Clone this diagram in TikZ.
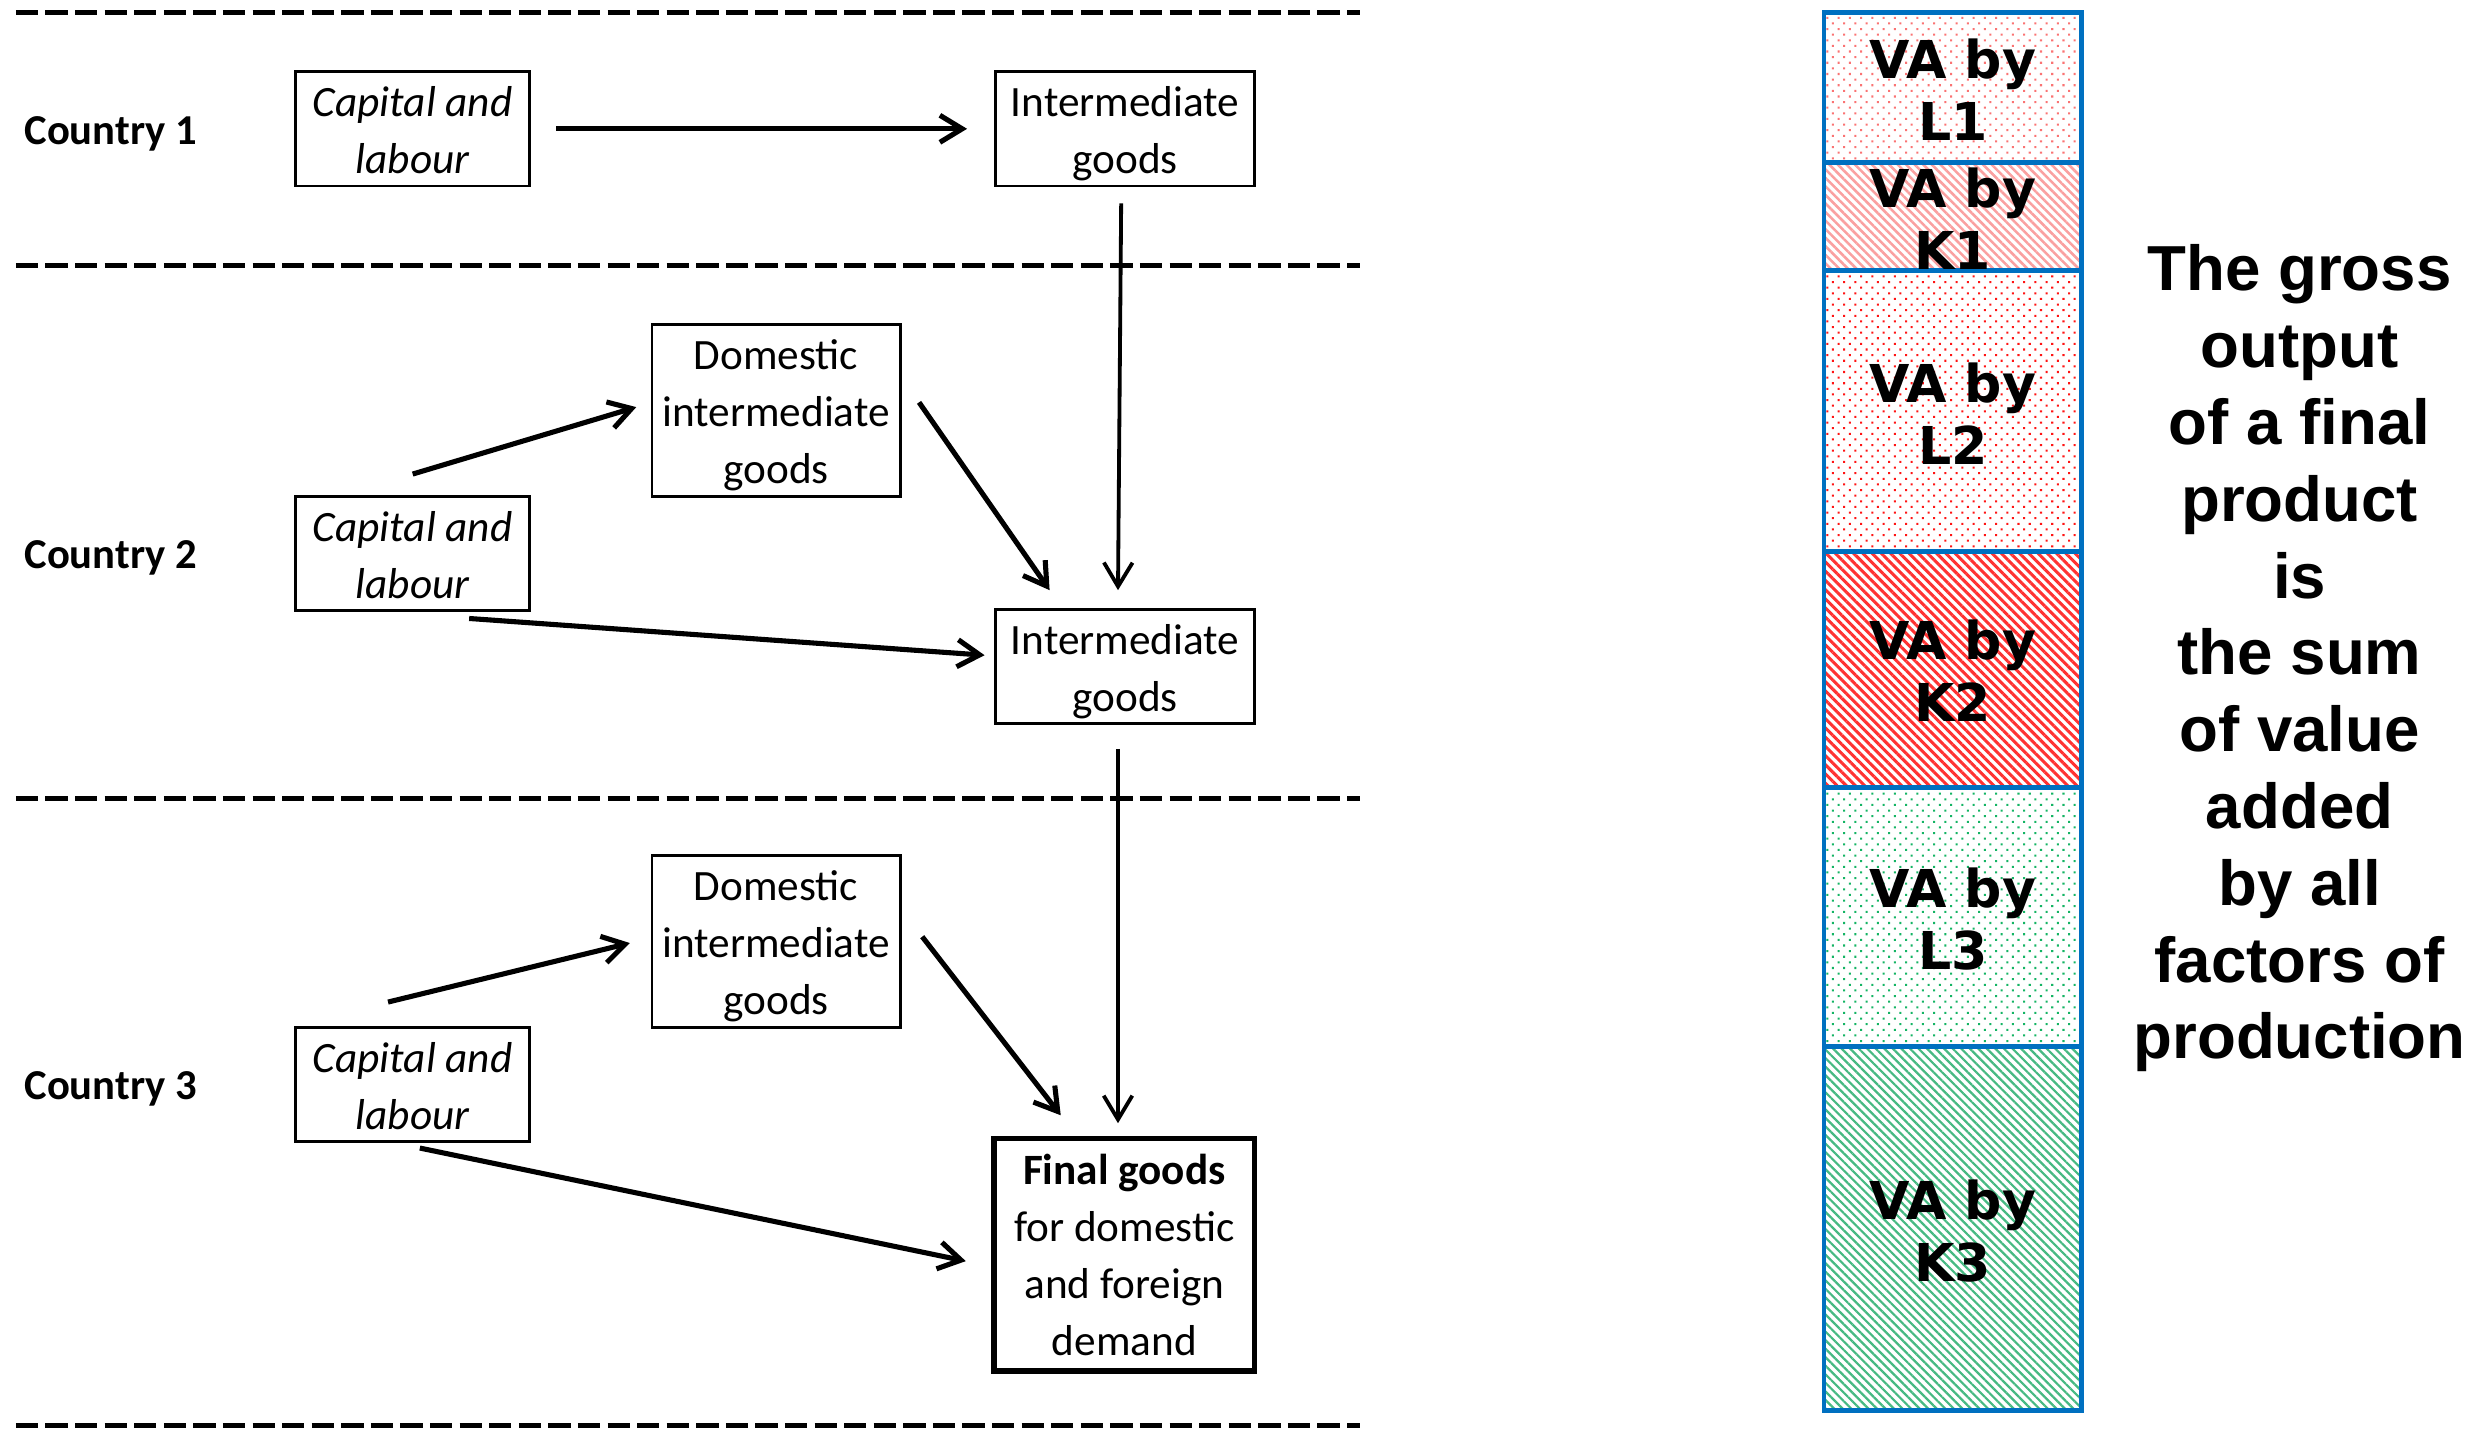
\documentclass[tikz,border=0pt]{standalone}
\usepackage{fontspec}
\setmainfont{Carlito}
\newfontfamily\libsans{Liberation Sans}
\newfontfamily\dejasans{DejaVu Sans}
\usetikzlibrary{arrows.meta,patterns.meta}
\definecolor{vablue}{RGB}{0,112,192}
\definecolor{pinkdot}{RGB}{250,115,115}
\definecolor{pinkline}{RGB}{250,160,160}
\definecolor{reddot}{RGB}{255,20,20}
\definecolor{redline}{RGB}{255,50,50}
\definecolor{greendot}{RGB}{20,180,100}
\definecolor{greenline}{RGB}{70,185,130}
\newcommand\lowtext[2]{\raisebox{-#1}[\height][\depth]{\begin{tabular}{@{}c@{}}#2\end{tabular}}}
\tikzset{
  flowbox/.style={draw, line width=0.9pt, inner sep=0pt,
    font=\fontsize{13.6}{18}\selectfont},
  clbox/.style={flowbox, minimum width=73.5pt, minimum height=36pt,
    font=\fontsize{13.6}{18}\selectfont\itshape},
  igbox/.style={flowbox, minimum width=81.5pt, minimum height=36pt},
  dombox/.style={flowbox, minimum width=78pt, minimum height=53.5pt},
  finalbox/.style={flowbox, line width=1.7pt, minimum width=82pt, minimum height=73pt},
  country/.style={anchor=west, inner sep=0pt, font=\fontsize{13.4}{16}\selectfont\bfseries},
  thickarrow/.style={line width=1.6pt, -{Straight Barb[length=7pt,width=8.5pt]}},
  thinarrow/.style={line width=1.2pt, -{Straight Barb[length=7.5pt,width=9pt]}},
  divider/.style={line width=1.5pt, dash pattern=on 7pt off 2.3pt},
  stackbox/.style={draw=vablue, line width=1.5pt},
  valabel/.style={align=center, inner sep=0pt, font=\dejasans\bfseries\fontsize{16.4}{19.5}\selectfont}
}
\begin{document}
\begin{tikzpicture}[x=0.5pt, y=-0.5pt]
\useasboundingbox (0,0) rectangle (1567,898.6);
% dashed dividers
\coordinate (d1a) at (10,8);     \coordinate (d1b) at (855,8);
\coordinate (d2a) at (10,167);   \coordinate (d2b) at (855,167);
\coordinate (d3a) at (10,502);   \coordinate (d3b) at (855,502);
\coordinate (d4a) at (10,896.5); \coordinate (d4b) at (855,896.5);
\draw[divider] (d1a) -- (d1b);
\draw[divider] (d2a) -- (d2b);
\draw[divider] (d3a) -- (d3b);
\draw[divider] (d4a) -- (d4b);
% country labels
\node[country] (c1) at (15,84) {Country 1};
\node[country] (c2) at (15,351) {Country 2};
\node[country] (c3) at (15,685) {Country 3};
% boxes
\node[clbox] (cl1) at (259.5,81) {\lowtext{1.6pt}{Capital and\\labour}};
\node[igbox] (ig1) at (707.5,81) {\lowtext{1.6pt}{Intermediate\\goods}};
\node[dombox] (dig2) at (488,258) {\lowtext{1.5pt}{Domestic\\intermediate\\goods}};
\node[clbox] (cl2) at (259.5,348) {\lowtext{1.6pt}{Capital and\\labour}};
\node[igbox] (ig2) at (707.5,419) {\lowtext{1.6pt}{Intermediate\\goods}};
\node[dombox] (dig3) at (488,592) {\lowtext{1.5pt}{Domestic\\intermediate\\goods}};
\node[clbox] (cl3) at (259.5,682) {\lowtext{1.6pt}{Capital and\\labour}};
\node[finalbox] (fg) at (707,789) {\lowtext{1.2pt}{\textbf{Final goods}\\for domestic\\and foreign\\demand}};
% arrows
\draw[thickarrow] ([xshift=8pt]cl1.east) -- ([xshift=-8.5pt]ig1.west);
\draw[thinarrow] ([xshift=-1.25pt,yshift=-5pt]ig1.south) -- ([xshift=-2.25pt,yshift=5.5pt]ig2.north);
\draw[thickarrow] ([yshift=6.5pt]cl2.north) -- ([xshift=-4.5pt,yshift=1pt]dig2.west);
\draw[thickarrow] ([xshift=5.5pt,yshift=2.5pt]dig2.east) -- ([xshift=-23.75pt,yshift=5.5pt]ig2.north);
\draw[thickarrow] ([xshift=17.75pt,yshift=-2pt]cl2.south) -- ([xshift=-3pt,yshift=3.5pt]ig2.west);
\draw[thinarrow] ([xshift=-2.25pt,yshift=-7.5pt]ig2.south) -- ([xshift=-2pt,yshift=4pt]fg.north);
\draw[thickarrow] ([xshift=-7.75pt,yshift=7.5pt]cl3.north) -- ([xshift=-6.5pt,yshift=-0.5pt]dig3.west);
\draw[thickarrow] ([xshift=6.5pt,yshift=1.5pt]dig3.east) -- ([xshift=-20pt,yshift=6.5pt]fg.north);
\draw[thickarrow] ([xshift=2.25pt,yshift=-1.5pt]cl3.south) -- ([xshift=-8pt,yshift=-2pt]fg.west);
% value-added stack
\path[pattern={Dots[angle=45,radius=0.45pt,distance=2.5pt]}, pattern color=pinkdot] (1147,8) rectangle (1309,102);
\path[pattern={Lines[angle=-45,distance=1.9pt,line width=0.8pt]}, pattern color=pinkline] (1147,102) rectangle (1309,170);
\path[pattern={Dots[angle=45,radius=0.45pt,distance=2.5pt]}, pattern color=reddot] (1147,170) rectangle (1309,347);
\path[pattern={Lines[angle=-45,distance=2.05pt,line width=0.95pt]}, pattern color=redline] (1147,347) rectangle (1309,495);
\path[pattern={Dots[angle=45,radius=0.45pt,distance=2.5pt]}, pattern color=greendot] (1147,495) rectangle (1309,658);
\path[pattern={Lines[angle=-45,distance=1.9pt,line width=0.7pt]}, pattern color=greenline] (1147,658) rectangle (1309,887);
\draw[stackbox] (1147,8) rectangle (1309,102);
\draw[stackbox] (1147,102) rectangle (1309,170);
\draw[stackbox] (1147,170) rectangle (1309,347);
\draw[stackbox] (1147,347) rectangle (1309,495);
\draw[stackbox] (1147,495) rectangle (1309,658);
\draw[stackbox] (1147,658) rectangle (1309,887);
\node[valabel] (vl1) at (1228,56.5) {VA by\\L1};
\node[valabel] (vk1) at (1228,137.5) {VA by\\K1};
\node[valabel] (vl2) at (1228,260) {VA by\\L2};
\node[valabel] (vk2) at (1228,422) {VA by\\K2};
\node[valabel] (vl3) at (1228,578) {VA by\\L3};
\node[valabel] (vk3) at (1228,774) {VA by\\K3};
% explanatory text
\node[align=center, inner sep=0pt, font=\libsans\bfseries\fontsize{20}{24.15}\selectfont] (expl) at (1446,414)
 {The gross\\output\\of a final\\product\\is\\the sum\\of value\\added\\by all\\factors of\\production};
\end{tikzpicture}
\end{document}
